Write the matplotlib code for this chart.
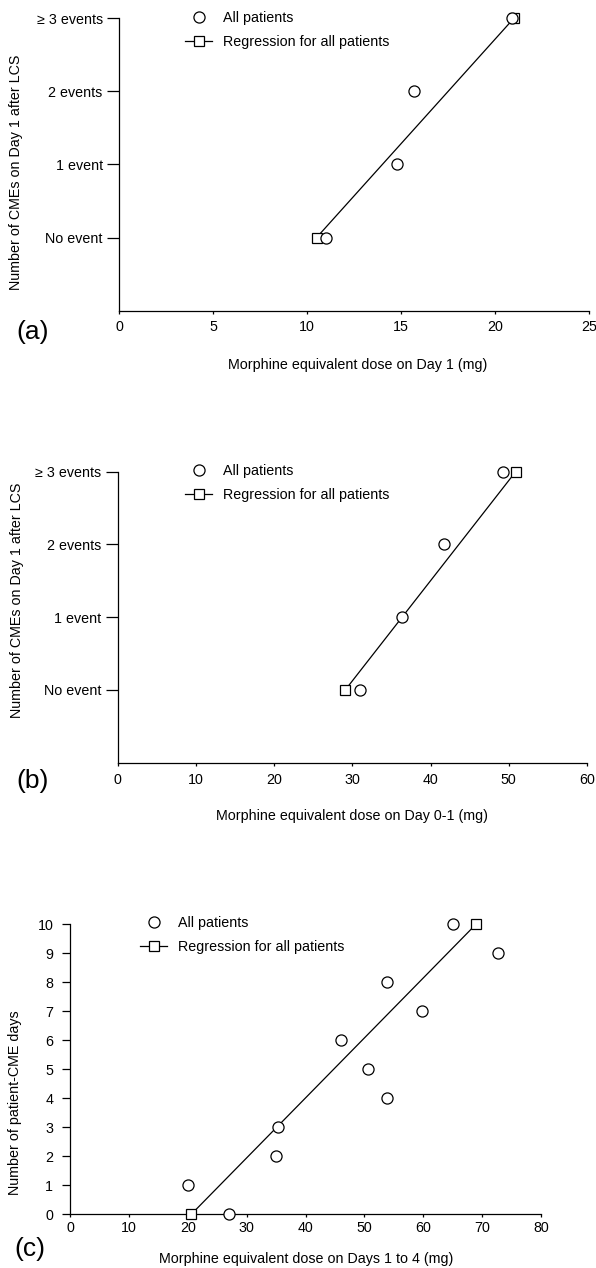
import matplotlib
matplotlib.use("Agg")
import matplotlib.pyplot as plt
from matplotlib.lines import Line2D

plt.rcParams['font.family'] = ['Liberation Sans', 'DejaVu Sans']

# ---- data ----
event_ticks = [0, 1, 2, 3]
event_labels = ["No event", "1 event", "2 events", "\u2265 3 events"]

a_x = [11.0, 14.8, 15.7, 20.9]
a_y = [0, 1, 2, 3]
a_reg_x = [10.5, 21.0]
a_reg_y = [0, 3]
a_xticks = [0, 5, 10, 15, 20, 25]

b_x = [31.0, 36.3, 41.7, 49.2]
b_y = [0, 1, 2, 3]
b_reg_x = [29.1, 50.9]
b_reg_y = [0, 3]
b_xticks = [0, 10, 20, 30, 40, 50, 60]

c_x = [20.0, 27.0, 35.0, 35.4, 46.1, 50.7, 53.8, 53.8, 59.8, 65.0, 72.7]
c_y = [1, 0, 2, 3, 6, 5, 8, 4, 7, 10, 9]
c_reg_x = [20.6, 69.0]
c_reg_y = [0, 10]
c_xticks = [0, 10, 20, 30, 40, 50, 60, 70, 80]
c_yticks = list(range(0, 11))

W, H = 596, 1268
fig = plt.figure(figsize=(W / 100, H / 100), dpi=100)

def px_axes(left, top, right, bottom):
    return fig.add_axes([left / W, 1 - bottom / H, (right - left) / W, (bottom - top) / H])

def fx(px):
    return px / W

def fy(py):
    return 1 - py / H

FS = 10.3
MS_C = 8
MS_S = 7.5
LW = 0.9

def style(ax, xlim, ylim, xticks, yticks, ylabels=None, ylen=9, ypad=3, xpad=4.5):
    ax.set_xlim(*xlim)
    ax.set_ylim(*ylim)
    for s in ['top', 'right']:
        ax.spines[s].set_visible(False)
    for s in ['left', 'bottom']:
        ax.spines[s].set_linewidth(LW)
    ax.spines['left'].set_bounds(ylim[0], yticks[-1])
    ax.set_xticks(xticks)
    ax.set_yticks(yticks)
    if ylabels is not None:
        ax.set_yticklabels(ylabels)
    ax.tick_params(axis='x', direction='out', length=2.5, width=LW, labelsize=FS, pad=xpad)
    ax.tick_params(axis='y', direction='out', length=ylen, width=LW, labelsize=FS, pad=ypad)

def draw(ax, x, y, rx, ry):
    ax.plot(rx, ry, '-', color='black', lw=LW, marker='s', ms=MS_S, mfc='white',
            mec='black', mew=LW, clip_on=False, zorder=3)
    ax.plot(x, y, 'o', ms=MS_C, mfc='white', mec='black', mew=LW, clip_on=False, zorder=4)

def legend(ax, x_px, y_px):
    h1 = Line2D([], [], ls='none', marker='o', ms=MS_C, mfc='white', mec='black', mew=LW)
    h2 = Line2D([], [], ls='-', color='black', lw=LW, marker='s', ms=MS_S, mfc='white',
                mec='black', mew=LW)
    ax.legend([h1, h2], ["All patients", "Regression for all patients"], loc='upper left',
              bbox_to_anchor=(fx(x_px), fy(y_px)), bbox_transform=fig.transFigure,
              frameon=False, fontsize=FS, borderpad=0, borderaxespad=0,
              handlelength=1.9, handletextpad=0.75, labelspacing=0.7)

# ---- panel (a) ----
axa = px_axes(119.3, 18.3, 589, 310.7)
draw(axa, a_x, a_y, a_reg_x, a_reg_y)
style(axa, (0, 25), (-1, 3), a_xticks, event_ticks, event_labels, xpad=4.5)
legend(axa, 185, 11)
fig.text(fx(358), fy(365), "Morphine equivalent dose on Day 1 (mg)", ha='center', va='center',
         fontsize=FS)
fig.text(fx(16), fy(172), "Number of CMEs on Day 1 after LCS", rotation=90,
         ha='center', va='center', fontsize=FS)
fig.text(fx(33), fy(332), "(a)", ha='center', va='center', fontsize=19)

# ---- panel (b) ----
axb = px_axes(117.7, 471.5, 587, 762.7)
draw(axb, b_x, b_y, b_reg_x, b_reg_y)
style(axb, (0, 60), (-1, 3), b_xticks, event_ticks, event_labels, xpad=5)
legend(axb, 185, 464)
fig.text(fx(352), fy(816), "Morphine equivalent dose on Day 0-1 (mg)", ha='center', va='center',
         fontsize=FS)
fig.text(fx(17), fy(600), "Number of CMEs on Day 1 after LCS", rotation=90,
         ha='center', va='center', fontsize=FS)
fig.text(fx(33), fy(781), "(b)", ha='center', va='center', fontsize=19)

# ---- panel (c) ----
axc = px_axes(70, 924, 541, 1214.3)
draw(axc, c_x, c_y, c_reg_x, c_reg_y)
style(axc, (0, 80), (0, 10), c_xticks, c_yticks, ylen=6, ypad=6, xpad=2.5)
legend(axc, 140, 916)
fig.text(fx(306), fy(1259), "Morphine equivalent dose on Days 1 to 4 (mg)", ha='center',
         va='center', fontsize=FS)
fig.text(fx(15), fy(1103), "Number of patient-CME days", rotation=90,
         ha='center', va='center', fontsize=FS)
fig.text(fx(30), fy(1249), "(c)", ha='center', va='center', fontsize=19)

fig.savefig("out.png", dpi=100, facecolor='white')
